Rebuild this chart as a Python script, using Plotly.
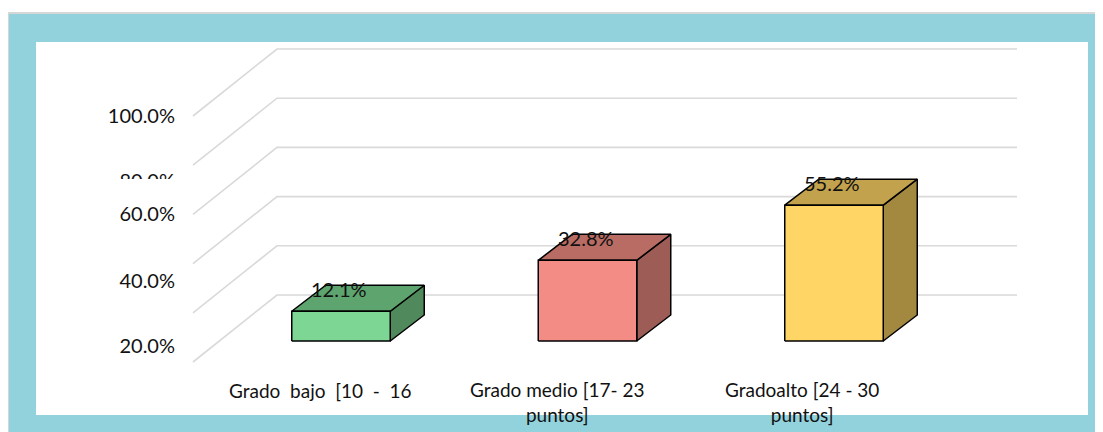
import plotly.graph_objects as go

# ---------------- data ----------------
categories = ["Grado\u00a0\u00a0bajo\u00a0\u00a0[10\u00a0\u00a0-\u00a0\u00a016<br>puntos]",
              "Grado medio [17- 23<br>puntos]",
              "Gradoalto [24 - 30<br>puntos]"]
values = [12.1, 32.8, 55.2]
value_labels = ["12.1%", "32.8%", "55.2%"]
grid_values = [0, 20, 40, 60, 80, 100]
tick_labels = ["100.0%", "80.0%", "60.0%", "40.0%", "20.0%"]

front_colors = ["#7DD694", "#F28C84", "#FFD666"]
top_colors = ["#5EA46E", "#B86C64", "#C2A24C"]
side_colors = ["#508A5C", "#9E5C56", "#A38840"]

# ---------------- layout geometry (page pixels) ----------------
PAGE_W, PAGE_H = 1103, 432
OFF = 8                      # default body margin of the html page
W, H = PAGE_W - OFF, PAGE_H - OFF
X0PX, XS = 341.0, 246.5      # page pixel of category 0 centre, pixels per category
Y0PX, YS = 341.0, 2.46       # page pixel of 0 %, pixels per percent


def px2x(p):
    return (p - X0PX) / XS


def px2y(p):
    return (Y0PX - p) / YS


def px(p):
    return (p - OFF) / W


def py(p):
    return 1 - (p - OFF) / H


BW = 98.5 / XS             # bar width (category units)
DX, DY = 34 / XS, 26 / YS  # bar depth offset
XF, XB, XR = px2x(193), px2x(277), px2x(1017)  # wall: front-left, back-left, back-right
FY, BY = -21 / YS, 46 / YS                      # floor front / back wall offsets

TEAL = "#92D2DC"
FONT = "Lato"
TXT = "#111111"

fig = go.Figure()

# gridlines (floor diagonal + back wall)
gx, gy = [], []
for g in grid_values:
    gx += [XF, XB, XR, None]
    gy += [g + FY, g + BY, g + BY, None]
fig.add_trace(go.Scatter(x=gx, y=gy, mode="lines",
                         line=dict(color="#D9D9D9", width=1.6),
                         hoverinfo="skip", showlegend=False))

# pseudo-3D bars
for i, v in enumerate(values):
    xl, xr = i - BW / 2, i + BW / 2
    faces = [
        ([xr, xr + DX, xr + DX, xr, xr], [0, DY, v + DY, v, 0], side_colors[i]),
        ([xl, xr, xr + DX, xl + DX, xl], [v, v, v + DY, v + DY, v], top_colors[i]),
        ([xl, xr, xr, xl, xl], [0, 0, v, v, 0], front_colors[i]),
    ]
    for fx, fy, col in faces:
        fig.add_trace(go.Scatter(x=fx, y=fy, mode="lines", fill="toself",
                                 fillcolor=col,
                                 line=dict(color="#000000", width=1.5),
                                 hoverinfo="skip", showlegend=False))

# y tick labels (as drawn in the picture)
tick_label_py = [117.5, 182.5, 215.5, 282.5, 347.5]
fig.add_trace(go.Scatter(
    x=[px2x(175)] * len(tick_labels), y=[px2y(p) for p in tick_label_py],
    mode="text", text=tick_labels, textposition="middle left",
    textfont=dict(family=FONT, size=20, color=TXT),
    hoverinfo="skip", showlegend=False))

# first category label: its second line falls under the frame
cat_label_px = [320.5, 557, 802]
first_lines = categories[0].split("<br>")
fig.add_trace(go.Scatter(
    x=[px2x(cat_label_px[0])], y=[px2y(428)], mode="text",
    text=[first_lines[1]], textposition="middle center",
    textfont=dict(family=FONT, size=19, color=TXT),
    hoverinfo="skip", showlegend=False))

annotations = [dict(x=px2x(cat_label_px[0]), y=px2y(390), xref="x", yref="y",
                    text=first_lines[0], showarrow=False,
                    xanchor="center", yanchor="middle",
                    font=dict(family=FONT, size=19, color=TXT))]
for i in (1, 2):
    annotations.append(dict(x=px2x(cat_label_px[i]), y=px2y(402), xref="x", yref="y",
                            text=categories[i], showarrow=False,
                            xanchor="center", yanchor="middle",
                            font=dict(family=FONT, size=19, color=TXT)))
for i, v in enumerate(values):
    annotations.append(dict(x=i - 2 / XS, y=v + 22 / YS, xref="x", yref="y",
                            text=value_labels[i], showarrow=False,
                            xanchor="center", yanchor="middle",
                            font=dict(family=FONT, size=20, color=TXT)))

shapes = [
    dict(type="rect", xref="paper", yref="paper", x0=px(8), x1=px(PAGE_W + 20),
         y0=py(PAGE_H + 20), y1=py(13), fillcolor=TEAL,
         line=dict(color="#D6D6D6", width=2), layer="below"),
    dict(type="rect", xref="paper", yref="paper", x0=px(36), x1=px(1088),
         y0=py(415), y1=py(42), fillcolor="#FFFFFF", line=dict(width=0),
         layer="below"),
    dict(type="rect", xref="paper", yref="paper", x0=px(36), x1=px(1088),
         y0=py(PAGE_H + 5), y1=py(415), fillcolor=TEAL, line=dict(width=0),
         layer="above"),
    dict(type="rect", xref="paper", yref="paper", x0=px(90), x1=px(185),
         y0=py(201), y1=py(179), fillcolor="#FFFFFF", line=dict(width=0),
         layer="above"),
]

fig.update_layout(
    width=W, height=H,
    margin=dict(l=0, r=0, t=0, b=0, pad=0),
    paper_bgcolor="#FFFFFF", plot_bgcolor="rgba(0,0,0,0)",
    xaxis=dict(range=[px2x(OFF), px2x(PAGE_W)], visible=False, fixedrange=True),
    yaxis=dict(range=[px2y(PAGE_H), px2y(OFF)], visible=False, fixedrange=True),
    showlegend=False,
    shapes=shapes,
    annotations=annotations,
)

fig.write_html("out.html")
